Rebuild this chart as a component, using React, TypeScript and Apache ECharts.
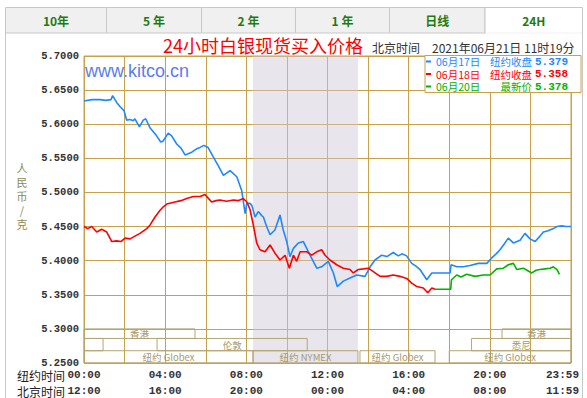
import React, { useEffect, useRef } from 'react';
import * as echarts from 'echarts';

// ---------- data ----------
const seriesNames = ['06月17日', '06月18日', '06月20日'];
const legendLabels = ['纽约收盘', '纽约收盘', '最新价'];
const legendValues = ['5.379', '5.358', '5.378'];

const nyTickLabels = ['00:00', '04:00', '08:00', '12:00', '16:00', '20:00', '23:59'];
const bjTickLabels = ['12:00', '16:00', '20:00', '00:00', '04:00', '08:00', '11:59'];

// [NY hour, price]
const jun17: [number, number][] = [
  [0, 5.634], [0.39, 5.636], [0.79, 5.636], [1.08, 5.635], [1.33, 5.636], [1.41, 5.642], [1.61, 5.632],
  [1.77, 5.626], [1.97, 5.62], [2.1, 5.606], [2.27, 5.607], [2.43, 5.605], [2.51, 5.608], [2.73, 5.596],
  [2.92, 5.606], [3.04, 5.608], [3.25, 5.595], [3.58, 5.583], [3.78, 5.574], [3.89, 5.575], [4.15, 5.587],
  [4.32, 5.583], [4.57, 5.571], [4.78, 5.565], [4.98, 5.555], [5.31, 5.559], [5.55, 5.564], [5.72, 5.566],
  [5.91, 5.569], [6.11, 5.566], [6.37, 5.552], [6.6, 5.54], [6.87, 5.525], [7.2, 5.532], [7.53, 5.523],
  [7.77, 5.503], [7.94, 5.469], [8.02, 5.484], [8.18, 5.484], [8.27, 5.481], [8.43, 5.464], [8.59, 5.472],
  [8.76, 5.466], [8.84, 5.464], [9.0, 5.45], [9.17, 5.438], [9.41, 5.445], [9.66, 5.467], [9.82, 5.445],
  [9.99, 5.428], [10.15, 5.406], [10.32, 5.418], [10.56, 5.426], [10.81, 5.428], [11.14, 5.408],
  [11.47, 5.389], [11.71, 5.391], [12.04, 5.399], [12.29, 5.382], [12.48, 5.362], [12.78, 5.37],
  [13.11, 5.3745], [13.44, 5.379], [13.85, 5.377], [14.1, 5.391], [14.34, 5.401], [14.67, 5.408],
  [14.93, 5.406], [15.24, 5.412], [15.49, 5.407], [15.67, 5.41], [15.9, 5.407], [16.15, 5.396],
  [16.36, 5.392], [16.56, 5.387], [16.89, 5.372], [17.14, 5.382], [18.04, 5.382], [18.09, 5.394],
  [18.38, 5.391], [18.69, 5.391], [19.02, 5.393], [19.43, 5.396], [19.85, 5.396], [20.09, 5.404],
  [20.31, 5.41], [20.5, 5.416], [20.7, 5.424], [20.91, 5.433], [21.16, 5.426], [21.49, 5.43],
  [21.73, 5.44], [21.98, 5.432], [22.23, 5.428], [22.47, 5.436], [22.64, 5.442], [22.87, 5.444],
  [23.13, 5.447], [23.31, 5.45], [23.54, 5.451], [23.75, 5.45], [24, 5.45],
];

const jun18: [number, number][] = [
  [0, 5.45], [0.18, 5.447], [0.38, 5.45], [0.63, 5.442], [0.87, 5.446], [1.12, 5.442], [1.37, 5.428],
  [1.61, 5.429], [1.82, 5.428], [2.02, 5.433], [2.27, 5.432], [2.51, 5.436], [2.76, 5.44], [3.09, 5.447],
  [3.25, 5.452], [3.5, 5.464], [3.75, 5.474], [3.91, 5.479], [4.08, 5.483], [4.48, 5.486], [4.78, 5.488],
  [5.06, 5.491], [5.39, 5.494], [5.72, 5.494], [5.96, 5.497], [6.11, 5.492], [6.29, 5.486], [6.51, 5.488],
  [6.7, 5.489], [7.03, 5.487], [7.36, 5.489], [7.59, 5.488], [7.85, 5.491], [8.03, 5.486], [8.18, 5.475],
  [8.34, 5.453], [8.51, 5.426], [8.67, 5.416], [8.92, 5.413], [9.17, 5.423], [9.41, 5.411], [9.66, 5.401],
  [9.91, 5.408], [10.12, 5.389], [10.32, 5.408], [10.48, 5.399], [10.65, 5.413], [10.98, 5.413],
  [11.22, 5.408], [11.47, 5.413], [11.71, 5.416], [11.88, 5.408], [12.12, 5.401], [12.45, 5.394],
  [12.78, 5.389], [13.11, 5.387], [13.27, 5.382], [13.52, 5.387], [13.77, 5.388], [14.01, 5.389],
  [14.26, 5.384], [14.59, 5.377], [14.92, 5.377], [15.24, 5.379], [15.57, 5.377], [15.9, 5.374],
  [16.15, 5.367], [16.4, 5.362], [16.72, 5.36], [16.94, 5.353], [17.14, 5.36], [17.3, 5.358],
];

const jun20: [number, number][] = [
  [17.3, 5.358], [18.07, 5.358], [18.11, 5.372], [18.37, 5.379], [18.58, 5.376], [18.86, 5.38],
  [19.27, 5.377], [19.68, 5.379], [20.01, 5.379], [20.34, 5.388], [20.67, 5.389], [20.91, 5.394],
  [21.16, 5.396], [21.33, 5.387], [21.65, 5.389], [21.83, 5.386], [22.07, 5.382], [22.28, 5.386],
  [22.47, 5.387], [22.72, 5.388], [22.97, 5.389], [23.13, 5.391], [23.31, 5.387], [23.43, 5.38],
];

// trading sessions (NY hours), row 0..2 in the bottom band
const sessionNames = ['香港', '', '伦敦', '纽约 Globex', '纽约 NYMEX', '纽约 Globex', '悉尼', '香港', '纽约 Globex'];
const sessionStart = [0, 0, 3.6, 0, 8.33, 13.6, 19.1, 20.6, 18.0];
const sessionEnd = [5.47, 0.94, 11.0, 8.33, 13.5, 17.3, 24, 24, 24];
const sessionRow = [0, 1, 1, 2, 2, 2, 1, 0, 2];
const nymexShade = [8.33, 13.5];

const tabLabels = ['10年', '5 年', '2 年', '1 年', '日线', '24H'];

// ---------- style ----------
const GOLD = '#c9a14a';
const COLORS = ['#1e88ff', '#ff0000', '#00b400'];
const MONO = '"Liberation Mono", "DejaVu Sans Mono", monospace';
const CJK = '"Noto Sans CJK SC", sans-serif';

export default function App() {
  const ref = useRef<HTMLDivElement>(null);

  useEffect(() => {
    if (!ref.current) return;
    const chart = echarts.init(ref.current, null, { renderer: 'svg' });

    const rowTops = [5.3, 5.286, 5.268];
    const rowBots = [5.286, 5.268, 5.25];

    const sessionAreas = sessionNames.map((n, i) => [
      { name: n, xAxis: sessionStart[i], yAxis: rowTops[sessionRow[i]] },
      { xAxis: sessionEnd[i], yAxis: rowBots[sessionRow[i]] },
    ]);

    // tabs
    const tabEdges = [5.5, 106.5, 201.5, 295.5, 389.5, 485, 582.5];
    const tabGraphics: any[] = [];
    tabLabels.forEach((t, i) => {
      const x0 = tabEdges[i];
      const x1 = tabEdges[i + 1];
      const active = i === tabLabels.length - 1;
      tabGraphics.push({
        type: 'rect',
        shape: { x: x0, y: 7.5, width: x1 - x0, height: 25.5 },
        style: { fill: active ? '#ffffff' : '#f0f0f0', stroke: '#c8c8c8', lineWidth: 1 },
        z: 10,
      });
      if (active) {
        tabGraphics.push({
          type: 'line',
          shape: { x1: x0 + 0.5, y1: 33, x2: x1 - 0.5, y2: 33 },
          style: { stroke: '#ffffff', lineWidth: 1.5 },
          z: 11,
        });
      }
      tabGraphics.push({
        type: 'text',
        x: (x0 + x1) / 2,
        y: 20.5,
        style: {
          text: t, fill: '#1f7a12', font: `bold 12px ${CJK}`,
          align: 'center', verticalAlign: 'middle',
        },
        z: 12,
      });
    });

    const yTitle = ['人', '民', '币', '/', '克'];

    const option: any = {
      animation: false,
      backgroundColor: '#ffffff',
      grid: {
        left: 84, right: 16, top: 56, bottom: 35,
        containLabel: false, outerBoundsMode: 'none',
        show: true, borderColor: GOLD, borderWidth: 1, backgroundColor: '#ffffff',
      },
      xAxis: {
        type: 'value', min: 0, max: 24, interval: 2,
        axisLine: { show: false }, axisTick: { show: false },
        splitLine: { show: true, lineStyle: { color: GOLD, width: 1 } },
        axisLabel: {
          margin: 4,
          showMinLabel: true, showMaxLabel: true, hideOverlap: false,
          formatter: (v: number) => {
            if (v % 4 !== 0) return '';
            const k = v / 4;
            const tag = v === 24 ? 'b' : 'a';
            return `{${tag}|${nyTickLabels[k]}}\n{${tag}|${bjTickLabels[k]}}`;
          },
          rich: {
            a: { fontFamily: MONO, fontWeight: 'bold', fontSize: 11, color: '#333', lineHeight: 16 },
            b: { fontFamily: MONO, fontWeight: 'bold', fontSize: 11, color: '#333', lineHeight: 16, padding: [0, 17, 0, 0] },
          },
        },
      },
      yAxis: {
        type: 'value', min: 5.25, max: 5.7, interval: 0.05,
        axisLine: { show: false }, axisTick: { show: false },
        splitLine: { show: true, lineStyle: { color: GOLD, width: 1 } },
        axisLabel: {
          formatter: (v: number) => v.toFixed(4),
          fontFamily: MONO, fontWeight: 'bold', fontSize: 10.5, color: '#333', margin: 5,
        },
      },
      legend: {
        orient: 'vertical', left: 425, top: 55.5,
        backgroundColor: '#ffffff', borderColor: GOLD, borderWidth: 1,
        padding: [0, 13, 0, 1], itemGap: 0.5, itemWidth: 5, itemHeight: 2, icon: 'rect',
        selectedMode: false,
        data: seriesNames.map((n, i) => ({ name: n, textStyle: { color: COLORS[i] } })),
        formatter: (name: string) => {
          const i = seriesNames.indexOf(name);
          return `{d|${name}}{l|${legendLabels[i]}}{v|${legendValues[i]}}`;
        },
        textStyle: {
          fontSize: 10.5, lineHeight: 12, fontFamily: CJK,
          rich: {
            d: { fontSize: 10.5, fontFamily: CJK, width: 52, lineHeight: 12 },
            l: { fontSize: 10.5, fontFamily: CJK, width: 44, align: 'right', lineHeight: 12 },
            v: { fontSize: 11, fontFamily: MONO, fontWeight: 'bold', width: 36, align: 'right', lineHeight: 12 },
          },
        },
      },
      series: [
        {
          name: 'shade', type: 'line', data: [], silent: true, z: 1,
          markArea: {
            silent: true,
            itemStyle: { color: 'rgba(205,198,214,0.45)' },
            data: [[{ xAxis: nymexShade[0] }, { xAxis: nymexShade[1] }]],
          },
        },
        {
          name: 'sessions', type: 'line', data: [], silent: true, z: 2,
          markArea: {
            silent: true,
            itemStyle: { color: 'rgba(0,0,0,0)', borderColor: '#b3a674', borderWidth: 1 },
            label: {
              show: true, position: 'inside', color: '#a59a6c', fontSize: 9.5, lineHeight: 9.5, fontFamily: CJK,
            },
            data: sessionAreas,
          },
        },
        ...[jun17, jun18, jun20].map((d, i) => ({
          name: seriesNames[i], type: 'line', data: d, showSymbol: false, symbol: 'none',
          lineStyle: { color: COLORS[i], width: 1.6 }, itemStyle: { color: COLORS[i] }, z: 5 + i,
        })),
      ],
      graphic: [
        ...tabGraphics,
        { type: 'line', shape: { x1: 5.5, y1: 33, x2: 5.5, y2: 398 }, style: { stroke: '#c8c8c8', lineWidth: 1 } },
        { type: 'line', shape: { x1: 582.5, y1: 33, x2: 582.5, y2: 398 }, style: { stroke: '#c8c8c8', lineWidth: 1 } },
        {
          type: 'text', x: 163, y: 45,
          style: { text: '24小时白银现货买入价格', fill: '#ff0000', font: `18px ${CJK}`, verticalAlign: 'middle' },
        },
        {
          type: 'text', x: 372, y: 47,
          style: { text: '北京时间', fill: '#333', font: `12px ${CJK}`, verticalAlign: 'middle' },
        },
        {
          type: 'text', x: 432, y: 47,
          style: { text: '2021年06月21日 11时19分', fill: '#333', font: `12px ${CJK}`, verticalAlign: 'middle' },
        },
        {
          type: 'text', x: 85, y: 71,
          style: { text: 'www.kitco.cn', fill: '#5a7cf0', font: '18px "Liberation Sans", Arial, sans-serif', verticalAlign: 'middle' },
          z: 20,
        },
        ...yTitle.map((c, i) => ({
          type: 'text', x: 22, y: 168 + i * 14,
          style: { text: c, fill: '#8b8b55', font: `11px ${CJK}`, align: 'center', verticalAlign: 'middle' },
        })),
        {
          type: 'text', x: 17, y: 375,
          style: { text: '纽约时间', fill: '#222', font: `12px ${CJK}`, verticalAlign: 'middle' },
        },
        {
          type: 'text', x: 17, y: 391,
          style: { text: '北京时间', fill: '#222', font: `12px ${CJK}`, verticalAlign: 'middle' },
        },
      ],
    };

    chart.setOption(option);
    return () => chart.dispose();
  }, []);

  return (
    <div
      ref={ref}
      style={{ position: 'fixed', left: 0, top: 0, width: 587, height: 398, background: '#fff' }}
    />
  );
}
